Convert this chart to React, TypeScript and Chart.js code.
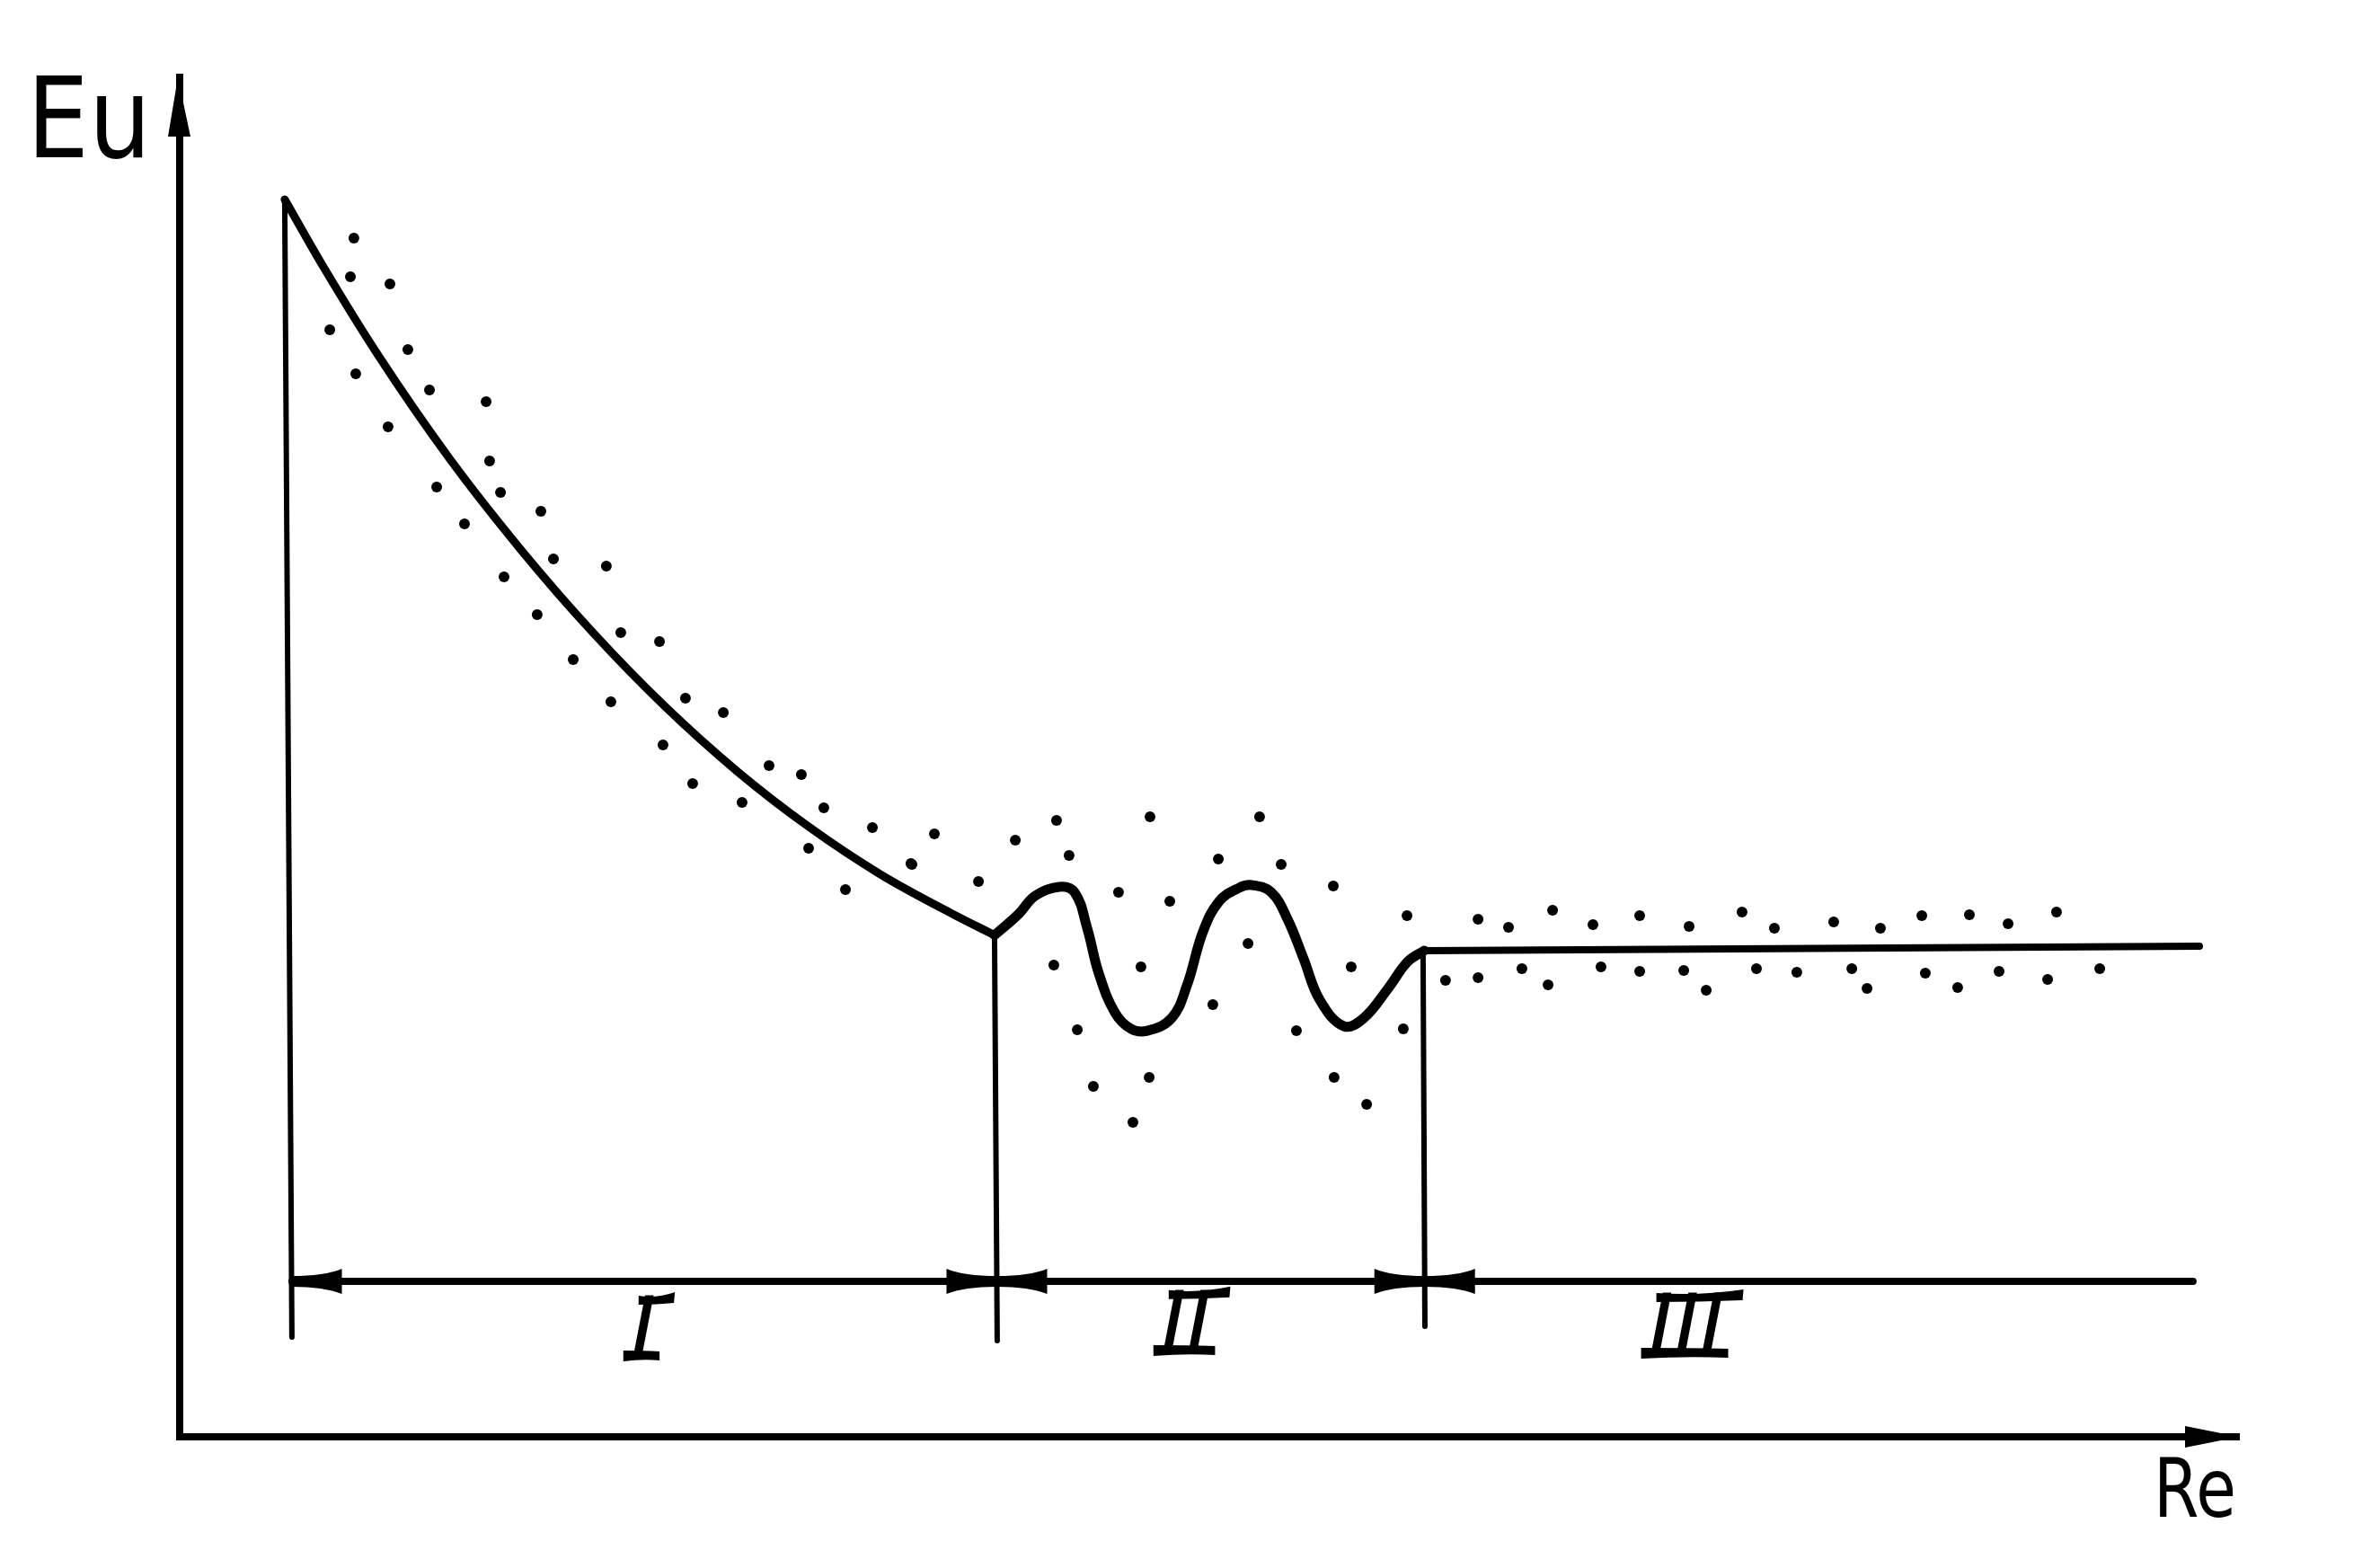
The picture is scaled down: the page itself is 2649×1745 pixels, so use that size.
import React, { useEffect, useRef } from 'react';
import { Chart, registerables } from 'chart.js';

Chart.register(...registerables);

// ---- Data (arbitrary units: Re on x 0..100, Eu on y 0..100) ----
const CURVE_I_X = [5.10, 6.98, 9.60, 13.09, 16.58, 20.07, 23.56, 27.05, 30.54, 34.03, 37.52, 39.57];
const CURVE_I_Y = [91.01, 86.05, 79.64, 71.98, 65.23, 59.15, 53.73, 48.98, 44.88, 41.37, 38.47, 36.90];

const WAVE_X = [39.57, 40.75, 41.54, 42.71, 43.46, 44.07, 44.63, 45.42, 46.20, 46.99, 48.17, 48.91, 49.69, 50.48, 51.44, 52.05, 53.01, 53.80, 54.58, 55.37, 56.54, 57.50, 58.68, 59.64, 60.43];
const WAVE_Y = [36.90, 38.47, 39.79, 40.45, 40.05, 37.41, 34.10, 31.20, 30.01, 29.87, 30.80, 33.18, 37.14, 39.39, 40.38, 40.58, 40.05, 38.07, 35.16, 32.12, 30.20, 30.80, 32.98, 34.96, 35.76];

const FLAT_X = [60.43, 98.08];
const FLAT_Y = [35.76, 36.09];

const BOUNDARY_X_TOP = [5.10, 39.57, 60.38];
const BOUNDARY_Y_TOP = [91.01, 36.90, 35.62];
const BOUNDARY_X_BOTTOM = [5.45, 39.70, 60.47];
const BOUNDARY_Y_BOTTOM = [7.34, 7.07, 8.13];

const DIM_X = [5.45, 97.77];
const DIM_Y = [11.43, 11.43];

const DOTS_I_X = [8.46, 8.29, 10.21, 7.29, 11.08, 8.55, 12.13, 14.88, 10.12, 15.05, 12.48, 15.58, 13.83, 17.54, 18.15, 15.75, 20.72, 17.36, 21.42, 23.30, 19.11, 20.94, 24.56, 26.40, 23.47, 24.91, 28.62, 30.19, 27.31, 31.28, 33.64, 36.65, 30.54, 35.51, 32.33];
const DOTS_I_Y = [88.17, 85.33, 84.80, 81.43, 79.97, 78.19, 77.00, 76.14, 74.29, 71.78, 69.86, 69.46, 67.15, 68.08, 64.57, 63.25, 64.04, 60.48, 59.15, 58.49, 57.17, 54.06, 54.33, 53.27, 50.89, 48.05, 49.37, 48.71, 46.66, 46.27, 44.81, 44.35, 43.29, 42.17, 40.25];

const DOTS_II_X = [35.56, 38.79, 40.58, 42.58, 43.19, 47.12, 45.59, 48.08, 50.44, 52.44, 53.49, 56.02, 59.60, 42.45, 46.68, 51.88, 56.89, 50.17, 43.59, 54.23, 59.42, 47.08, 44.37, 56.06, 57.64, 46.29];
const DOTS_II_Y = [42.10, 40.85, 43.89, 45.34, 42.76, 45.60, 40.05, 39.39, 42.50, 45.60, 42.10, 40.52, 38.33, 34.70, 34.57, 36.29, 34.57, 31.79, 29.94, 29.87, 30.01, 26.44, 25.78, 26.44, 24.45, 23.13];

const DOTS_III_X = [63.05, 64.53, 66.67, 68.63, 70.90, 73.30, 75.87, 77.44, 80.32, 82.59, 84.60, 86.91, 88.79, 91.14, 61.47, 63.05, 65.18, 66.45, 69.02, 70.90, 73.04, 74.13, 76.57, 78.53, 81.20, 81.94, 84.77, 86.34, 88.35, 90.71, 93.24];
const DOTS_III_Y = [38.07, 37.48, 38.73, 37.67, 38.33, 37.54, 38.60, 37.41, 37.87, 37.41, 38.33, 38.40, 37.74, 38.60, 33.58, 33.77, 34.44, 33.25, 34.57, 34.24, 34.30, 32.85, 34.44, 34.17, 34.44, 32.98, 34.10, 33.05, 34.24, 33.64, 34.44];

const ZONE_LABELS = ['I', 'II', 'III'];
const ZONE_LABEL_X = [22.51, 48.87, 73.17];
const ZONE_LABEL_Y = [5.75, 6.15, 5.95];

const Y_TITLE = 'Eu';
const X_TITLE = 'Re';

const zip = (xs: number[], ys: number[]) => xs.map((x, i) => ({ x, y: ys[i] }));

function fittedText(ctx: CanvasRenderingContext2D, text: string, left: number, baseline: number, size: number, targetWidth: number, font: string) {
  ctx.save();
  ctx.font = font.replace('SIZE', String(size));
  const w = ctx.measureText(text).width;
  ctx.translate(left, baseline);
  ctx.scale(targetWidth / w, 1);
  ctx.textAlign = 'left';
  ctx.textBaseline = 'alphabetic';
  ctx.fillText(text, 0, 0);
  ctx.restore();
}

function wedge(ctx: CanvasRenderingContext2D, tipX: number, y: number, dir: number) {
  // dir = -1 : arrow points left (body to the right of tip); +1 : points right
  const L = 56;
  const b = tipX - dir * L;
  const m = tipX - dir * L * 0.65;
  ctx.beginPath();
  ctx.moveTo(tipX, y - 6);
  ctx.quadraticCurveTo(m, y - 6, b, y - 14);
  ctx.lineTo(b, y + 14);
  ctx.quadraticCurveTo(m, y + 6, tipX, y + 6);
  ctx.closePath();
  ctx.fill();
}

function romanLabel(ctx: CanvasRenderingContext2D, text: string, cx: number, baseline: number) {
  const size = 96;
  ctx.save();
  ctx.font = `italic ${size}px "DejaVu Sans"`;
  ctx.textAlign = 'center';
  ctx.textBaseline = 'alphabetic';
  const w = ctx.measureText(text).width;
  ctx.fillText(text, cx, baseline);
  const cap = size * 0.73;
  const slant = cap * 0.2;
  const half = w / 2 + 5;
  const t = 9;
  // serif bars on top and bottom, following the italic slant
  const yTop = baseline - cap + t / 2 - 1;
  ctx.beginPath();
  ctx.moveTo(cx - half + slant, yTop - t / 2 + 1);
  ctx.quadraticCurveTo(cx + slant, yTop, cx + half + slant + 2, yTop - t / 2 - 3);
  ctx.lineTo(cx + half + slant + 1, yTop + t / 2);
  ctx.quadraticCurveTo(cx + slant, yTop + t / 2 + 2, cx - half + slant, yTop + t / 2 + 2);
  ctx.closePath();
  ctx.fill();
  const yBot = baseline - t / 2 + 1;
  ctx.beginPath();
  ctx.moveTo(cx - half - 3, yBot - t / 2 - 1);
  ctx.quadraticCurveTo(cx, yBot - t / 2 - 1, cx + half - 1, yBot - t / 2);
  ctx.lineTo(cx + half - 1, yBot + t / 2 + 1);
  ctx.quadraticCurveTo(cx, yBot + t / 2 - 1, cx - half - 3, yBot + t / 2 + 2);
  ctx.closePath();
  ctx.fill();
  ctx.restore();
}

const overlayPlugin = {
  id: 'sketchOverlay',
  afterDraw(chart: any) {
    const { ctx, chartArea, scales } = chart;
    const px = (v: number) => scales.x.getPixelForValue(v);
    const py = (v: number) => scales.y.getPixelForValue(v);
    ctx.save();
    ctx.fillStyle = '#000';

    // axis arrowheads
    const L = chartArea.left, T = chartArea.top, R = chartArea.right, B = chartArea.bottom;
    ctx.beginPath();
    ctx.moveTo(L - 2, T);
    ctx.lineTo(L + 12, T + 66);
    ctx.lineTo(L - 13, T + 66);
    ctx.closePath();
    ctx.fill();

    ctx.beginPath();
    ctx.moveTo(R, B);
    ctx.lineTo(R - 60, B - 12);
    ctx.lineTo(R - 60, B + 12);
    ctx.closePath();
    ctx.fill();

    // dimension-line arrowheads at the zone boundaries
    const dimY = py(DIM_Y[0]);
    const bx = BOUNDARY_X_BOTTOM.map((xb, i) => {
      const xt = BOUNDARY_X_TOP[i];
      const t = (DIM_Y[0] - BOUNDARY_Y_BOTTOM[i]) / (BOUNDARY_Y_TOP[i] - BOUNDARY_Y_BOTTOM[i]);
      return px(xb + (xt - xb) * t);
    });
    wedge(ctx, bx[0], dimY, -1);
    wedge(ctx, bx[1], dimY, 1);
    wedge(ctx, bx[1], dimY, -1);
    wedge(ctx, bx[2], dimY, 1);
    wedge(ctx, bx[2], dimY, -1);

    // zone labels
    ZONE_LABELS.forEach((s, i) => {
      romanLabel(ctx, s, px(ZONE_LABEL_X[i]), py(ZONE_LABEL_Y[i]));
    });

    // axis titles
    fittedText(ctx, Y_TITLE, L - 170, T + 89, 124, 138, 'SIZEpx "DejaVu Sans"');
    fittedText(ctx, X_TITLE, R - 95, B + 89, 90, 92, 'SIZEpx "DejaVu Sans"');

    ctx.restore();
  },
};

export default function App() {
  const ref = useRef<HTMLCanvasElement>(null);

  useEffect(() => {
    document.body.style.margin = '0';
    const canvas = ref.current!;

    const lineDs = (data: any[], width: number, tension: number, mode: string) => ({
      data,
      showLine: true,
      borderColor: '#000',
      backgroundColor: '#000',
      borderWidth: width,
      pointRadius: 0,
      tension,
      cubicInterpolationMode: mode,
      fill: false,
      borderCapStyle: 'round',
      borderJoinStyle: 'round',
    });
    const dotDs = (data: any[]) => ({
      data,
      showLine: false,
      pointRadius: 6,
      pointBackgroundColor: '#000',
      pointBorderWidth: 0,
      pointStyle: 'circle',
    });

    const datasets: any[] = [
      lineDs(zip(CURVE_I_X, CURVE_I_Y), 9, 0.4, 'monotone'),
      lineDs(zip(WAVE_X, WAVE_Y), 11, 0.4, 'default'),
      lineDs(zip(FLAT_X, FLAT_Y), 8, 0, 'default'),
      ...BOUNDARY_X_TOP.map((xt, i) =>
        lineDs([{ x: xt, y: BOUNDARY_Y_TOP[i] }, { x: BOUNDARY_X_BOTTOM[i], y: BOUNDARY_Y_BOTTOM[i] }], 6, 0, 'default')
      ),
      lineDs(zip(DIM_X, DIM_Y), 8, 0, 'default'),
      dotDs(zip(DOTS_I_X, DOTS_I_Y)),
      dotDs(zip(DOTS_II_X, DOTS_II_Y)),
      dotDs(zip(DOTS_III_X, DOTS_III_Y)),
    ];

    const hiddenAxis = (min: number, max: number) => ({
      type: 'linear' as const,
      min,
      max,
      grid: { display: false, drawTicks: false },
      ticks: { display: false },
      title: { display: false },
      border: { display: true, color: '#000', width: 8 },
    });

    const chart = new Chart(canvas, {
      type: 'scatter',
      data: { datasets },
      options: {
        animation: false,
        responsive: false,
        devicePixelRatio: 1,
        events: [],
        layout: { padding: { left: 200, right: 157, top: 86, bottom: 146 } },
        plugins: { legend: { display: false }, tooltip: { enabled: false }, title: { display: false } },
        scales: { x: hiddenAxis(0, 100), y: hiddenAxis(0, 100) },
      } as any,
      plugins: [overlayPlugin as any],
    });

    return () => chart.destroy();
  }, []);

  return (
    <canvas
      ref={ref}
      width={2649}
      height={1745}
      style={{ display: 'block', width: 2649, height: 1745, background: '#fff' }}
    />
  );
}
